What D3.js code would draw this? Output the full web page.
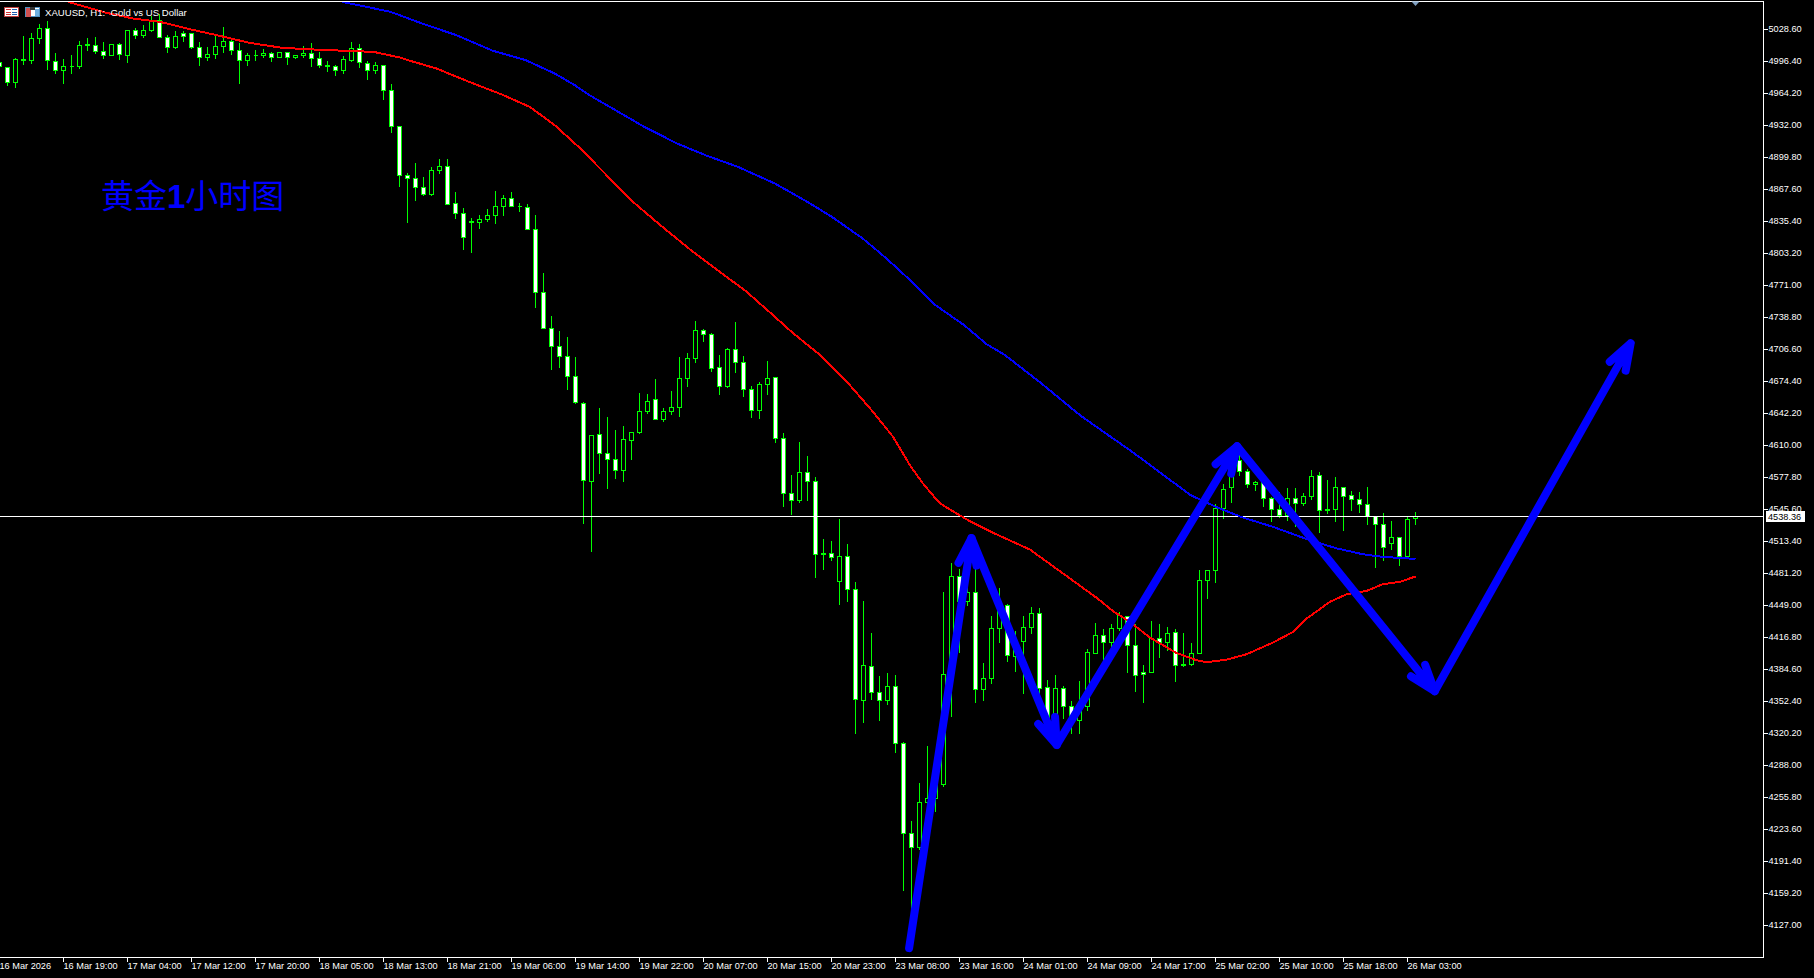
<!DOCTYPE html>
<html>
<head>
<meta charset="utf-8">
<style>
  html, body { margin: 0; padding: 0; background: #000; overflow: hidden; }
  svg { display: block; }
  text { font-family: "Liberation Sans", Arial, sans-serif; font-size: 9.2px; fill: #fff; }
  .header { font-size: 9.6px; }
  .title { font-family: "Noto Sans CJK SC", sans-serif; font-size: 33px; fill: #0000ff; }
  .title tspan { font-family: "Liberation Sans", sans-serif; font-weight: bold; }
  .axis line { stroke: #fff; shape-rendering: crispEdges; }
  .axis path { display: none; }
</style>
<script src="https://cdnjs.cloudflare.com/ajax/libs/d3/7.8.5/d3.min.js"></script>
</head>
<body>
<div id="chart"></div>
<script>
/* global d3 */
// XAUUSD H1 bars, oldest first
const opens = [
  4995.4, 4990.4, 4975.3, 4997.0, 4997.0, 5019.6, 5029.6, 4996.4, 4987.4, 4991.2,
  4991.4, 5012.5, 5012.5, 5006.5, 5002.5, 5013.5, 5002.5, 5027.6, 5022.6, 5027.2,
  5037.3, 5020.6, 5010.5, 5024.6, 5024.6, 5010.5, 5000.4, 5003.5, 5011.5, 5016.5,
  5007.5, 4997.4, 5002.3, 5002.5, 5004.5, 5000.4, 5005.5, 5000.4, 5002.5, 5004.5,
  4999.4, 4991.4, 4991.4, 4987.4, 4997.4, 5009.5, 4994.4, 4987.4, 4992.4, 4967.2,
  4931.0, 4881.7, 4878.7, 4869.6, 4862.6, 4886.7, 4890.8, 4853.5, 4843.5, 4834.4,
  4834.4, 4837.4, 4841.4, 4850.5, 4858.6, 4850.3, 4849.5, 4827.4, 4764.0, 4727.7,
  4709.6, 4699.6, 4679.5, 4652.3, 4573.8, 4621.1, 4602.0, 4595.9, 4584.8, 4615.1,
  4623.1, 4644.2, 4656.3, 4636.2, 4644.2, 4648.2, 4677.4, 4697.6, 4725.7, 4721.7,
  4688.5, 4669.4, 4706.6, 4693.5, 4666.4, 4645.2, 4671.4, 4678.4, 4617.1, 4561.7,
  4554.7, 4583.2, 4573.8, 4500.3, 4501.3, 4473.0, 4498.3, 4465.0, 4353.4, 4387.6,
  4361.4, 4353.4, 4367.5, 4310.1, 4219.6, 4205.5, 4250.7, 4254.7, 4268.9, 4393.9,
  4478.2, 4452.7, 4462.1, 4364.5, 4375.5, 4425.9, 4449.0, 4397.7, 4412.8, 4426.9,
  4441.0, 4366.5, 4328.6, 4365.5, 4347.4, 4333.3, 4347.4, 4400.7, 4418.8, 4411.8,
  4425.9, 4437.9, 4408.8, 4381.6, 4381.6, 4415.8, 4411.8, 4421.8, 4388.2, 4389.6,
  4400.7, 4474.2, 4484.2, 4546.6, 4567.8, 4594.9, 4583.8, 4570.8, 4572.8, 4556.7,
  4545.6, 4539.6, 4556.7, 4551.7, 4558.7, 4579.8, 4544.6, 4545.6, 4567.8, 4559.7,
  4555.7, 4550.6, 4538.6, 4530.5, 4511.4, 4517.4, 4498.3, 4536.5
];
const highs = [
  4997.7, 4991.7, 5000.4, 5022.9, 5025.2, 5034.9, 5038.0, 5005.8, 4999.7, 5003.8,
  5017.9, 5020.9, 5021.9, 5016.8, 5013.5, 5015.1, 5027.6, 5030.6, 5033.9, 5042.3,
  5044.7, 5023.6, 5027.9, 5027.9, 5025.6, 5016.8, 5011.8, 5024.6, 5031.9, 5019.6,
  5015.8, 5005.5, 5008.5, 5009.5, 5006.5, 5006.5, 5006.5, 5003.5, 5012.8, 5015.5,
  5006.8, 4997.4, 4993.4, 5002.5, 5016.5, 5014.8, 4997.4, 4996.4, 4992.4, 4974.5,
  4932.0, 4884.9, 4895.1, 4881.0, 4891.1, 4899.1, 4899.1, 4866.0, 4849.5, 4839.4,
  4842.8, 4848.8, 4866.9, 4862.6, 4866.0, 4854.5, 4853.5, 4842.8, 4784.1, 4741.1,
  4726.0, 4720.0, 4699.9, 4654.3, 4621.4, 4648.6, 4639.5, 4626.4, 4630.4, 4623.1,
  4663.6, 4662.6, 4677.7, 4648.6, 4665.7, 4699.9, 4703.9, 4736.1, 4728.0, 4724.0,
  4701.9, 4708.9, 4735.1, 4700.9, 4670.7, 4674.7, 4695.8, 4678.4, 4623.4, 4581.0,
  4614.3, 4600.3, 4579.1, 4516.7, 4514.7, 4536.9, 4511.7, 4473.4, 4454.4, 4422.1,
  4378.9, 4381.9, 4379.9, 4312.4, 4232.9, 4271.2, 4308.4, 4268.2, 4463.4, 4492.6,
  4486.2, 4467.4, 4487.2, 4391.7, 4439.0, 4467.1, 4451.0, 4424.2, 4439.0, 4448.3,
  4447.0, 4374.5, 4379.6, 4368.5, 4353.7, 4373.8, 4405.7, 4432.2, 4426.2, 4430.7,
  4442.6, 4438.2, 4430.7, 4389.9, 4434.2, 4430.7, 4428.2, 4425.9, 4422.2, 4412.1,
  4485.2, 4485.2, 4551.7, 4571.8, 4599.3, 4601.3, 4586.9, 4575.1, 4575.1, 4558.3,
  4564.0, 4567.8, 4567.8, 4562.7, 4585.9, 4583.8, 4575.8, 4579.1, 4569.1, 4565.0,
  4564.0, 4569.1, 4539.6, 4542.6, 4534.9, 4518.7, 4539.6, 4543.5
];
const lows = [
  4988.6, 4971.9, 4969.9, 4993.0, 4994.0, 5014.1, 4988.0, 4983.9, 4973.9, 4983.9,
  4989.4, 5007.8, 5004.1, 4999.0, 5002.5, 4998.0, 4995.0, 5019.2, 5020.2, 5026.6,
  5020.2, 5005.1, 5009.5, 5016.5, 5009.5, 4992.0, 4997.0, 4999.0, 5005.1, 5003.5,
  4973.9, 4992.0, 4997.0, 5000.0, 4996.0, 5000.4, 4993.0, 4999.4, 5000.4, 4991.0,
  4990.0, 4986.0, 4981.9, 4984.3, 4996.4, 4990.0, 4977.9, 4983.9, 4958.5, 4924.5,
  4870.2, 4834.0, 4856.2, 4861.2, 4861.2, 4883.3, 4852.5, 4838.0, 4806.8, 4803.8,
  4827.9, 4835.4, 4833.0, 4841.0, 4850.5, 4845.1, 4827.4, 4748.5, 4727.7, 4686.1,
  4688.1, 4666.0, 4651.9, 4531.1, 4502.9, 4581.4, 4566.4, 4576.4, 4573.4, 4595.5,
  4621.7, 4642.5, 4636.2, 4633.7, 4641.5, 4638.8, 4669.7, 4693.1, 4714.9, 4684.8,
  4660.9, 4668.4, 4683.8, 4659.6, 4637.8, 4636.8, 4661.6, 4612.6, 4548.2, 4540.2,
  4552.3, 4554.3, 4476.8, 4484.9, 4493.9, 4449.6, 4452.6, 4319.8, 4330.9, 4354.7,
  4333.6, 4349.7, 4301.4, 4162.5, 4102.2, 4203.1, 4248.1, 4241.3, 4267.2, 4336.9,
  4402.0, 4449.3, 4351.0, 4353.0, 4370.1, 4411.4, 4392.2, 4382.2, 4360.5, 4420.8,
  4358.8, 4323.5, 4323.5, 4335.3, 4320.5, 4320.2, 4342.9, 4400.7, 4392.2, 4406.0,
  4424.2, 4381.2, 4362.1, 4351.0, 4381.6, 4396.3, 4403.3, 4372.1, 4387.9, 4388.2,
  4400.7, 4455.7, 4471.7, 4536.7, 4552.3, 4579.4, 4567.4, 4565.0, 4548.9, 4533.1,
  4537.6, 4534.9, 4528.1, 4549.9, 4555.3, 4522.1, 4541.6, 4533.1, 4524.8, 4544.9,
  4542.2, 4530.8, 4486.9, 4494.6, 4505.6, 4489.2, 4496.3, 4530.8
];
const closes = [
  4991.4, 4975.3, 4998.4, 4998.4, 5019.6, 5029.6, 4997.4, 4987.4, 4991.4, 4991.4,
  5012.5, 5013.8, 5006.5, 5002.5, 5013.5, 5003.5, 5027.6, 5022.6, 5027.6, 5037.7,
  5020.6, 5010.5, 5021.6, 5021.6, 5010.5, 5000.4, 5003.5, 5011.5, 5016.5, 5007.5,
  4997.4, 5002.5, 5002.5, 5004.5, 5000.4, 5005.5, 5000.4, 5002.5, 5004.5, 4999.4,
  4992.4, 4992.4, 4987.4, 4998.4, 5009.5, 4995.4, 4987.4, 4992.4, 4967.2, 4931.0,
  4881.7, 4878.7, 4869.6, 4862.6, 4886.7, 4890.8, 4852.5, 4843.5, 4819.3, 4835.4,
  4837.4, 4841.4, 4850.5, 4858.6, 4850.5, 4850.5, 4827.4, 4764.0, 4727.7, 4709.6,
  4699.6, 4679.5, 4653.3, 4574.8, 4620.1, 4602.0, 4595.9, 4584.8, 4616.1, 4623.1,
  4644.2, 4654.3, 4636.2, 4644.2, 4648.2, 4677.4, 4697.6, 4725.7, 4721.7, 4687.5,
  4669.4, 4706.6, 4693.5, 4666.4, 4645.2, 4671.4, 4677.4, 4617.1, 4561.7, 4554.7,
  4583.2, 4573.8, 4500.3, 4501.3, 4497.3, 4498.3, 4465.0, 4354.4, 4388.6, 4361.4,
  4353.4, 4367.5, 4310.1, 4219.6, 4205.5, 4250.7, 4254.7, 4268.2, 4379.6, 4478.2,
  4452.7, 4462.1, 4364.5, 4375.5, 4425.9, 4449.0, 4398.7, 4412.8, 4426.9, 4441.0,
  4365.5, 4328.6, 4365.5, 4347.4, 4333.6, 4347.4, 4401.7, 4418.8, 4411.8, 4425.9,
  4439.3, 4408.8, 4378.6, 4379.6, 4415.8, 4411.8, 4420.8, 4388.6, 4389.6, 4400.7,
  4474.2, 4484.2, 4546.6, 4565.7, 4594.9, 4584.0, 4570.8, 4572.8, 4556.7, 4545.6,
  4539.6, 4556.7, 4551.7, 4558.7, 4578.8, 4544.6, 4545.6, 4567.8, 4558.7, 4555.7,
  4550.6, 4538.6, 4530.5, 4507.4, 4517.4, 4498.3, 4535.5, 4538.36
];

// moving averages: bar number + value, read at the bends
const redBars = [
  8.56, 13.4, 16.7, 20.06, 23.4, 27.15, 31.3, 35.4, 40.9, 45.06, 47.1, 50.06, 51.5, 54.6, 58.7,
  62.7, 66.3, 69.4, 72.6, 76.5, 79.2, 82.6, 86.7, 90.06, 93.4, 96.7, 99.2, 102.6, 106.3, 109.2,
  111.7, 113.8, 115.4, 117.4, 118.06, 121.06, 124.2, 128.8, 132.9, 137.2, 139.2, 141.3, 143.8,
  147.1, 149.65, 150.9, 153.4, 155.9, 159.2, 161.7, 163.4, 166.3, 168.4, 170.9, 172.9, 175.06, 177
];
const redValues = [
  5056.4, 5045.3, 5039.7, 5036.3, 5029.6, 5022.9, 5015.1, 5010.1, 5007.8, 5006.8, 5005.5, 5000.4, 4996.7, 4989.4, 4975.9,
  4963.5, 4950.7, 4932.3, 4908.9, 4877.0, 4855.1, 4831.7, 4804.8, 4784.7, 4764.6, 4741.1, 4723.0, 4700.9, 4670.7, 4643.8,
  4618.7, 4590.2, 4572.1, 4553.0, 4549.2, 4534.9, 4522.1, 4505.3, 4481.5, 4456.4, 4443.3, 4432.4, 4416.8,
  4401.3, 4393.9, 4391.9, 4394.5, 4400.0, 4411.8, 4422.4, 4435.9, 4452.7, 4460.4, 4463.7, 4470.4, 4472.8, 4478.2
];
const blueBars = [
  42.8, 45.9, 48.9, 52.6, 57.1, 61.7, 65.8, 69.4, 71.9, 73.9, 77.0, 80.6, 84.7, 88.25, 92.3, 96.9, 101,
  104.06, 107.9, 110.06, 111.8, 114.5, 117, 120.6, 123.4, 125.7, 130.2, 135.06, 138.6, 141.3, 143.55,
  145.8, 148.9, 152, 155.4, 159.2, 163.8, 167.2, 170.4, 172.9, 177
];
const blueValues = [
  5056.4, 5051.4, 5046.3, 5035.3, 5022.9, 5007.1, 4997.7, 4984.3, 4972.6, 4961.8, 4947.4, 4930.6, 4913.9, 4902.1, 4890.4, 4873.7, 4855.1,
  4840.0, 4818.3, 4803.8, 4791.4, 4771.3, 4751.2, 4731.0, 4711.9, 4700.9, 4672.7, 4640.5, 4620.4, 4605.3, 4592.0,
  4578.4, 4560.0, 4548.4, 4537.6, 4528.1, 4514.7, 4506.4, 4500.6, 4497.9, 4495.9
];

// hand drawn zig-zag, each leg ends in an arrow head
const arrowBars = [113.7, 121.5, 132.15, 154.7, 179.4, 203.9];
const arrowPrices = [4104.2, 4516.8, 4308.7, 4609.3, 4362.8, 4713.0];

const priceTicks = [
  5028.6, 4996.4, 4964.2, 4932.0, 4899.8, 4867.6, 4835.4, 4803.2, 4771.0, 4738.8,
  4706.6, 4674.4, 4642.2, 4610.0, 4577.8, 4545.6, 4513.4, 4481.2, 4449.0, 4416.8,
  4384.6, 4352.4, 4320.2, 4288.0, 4255.8, 4223.6, 4191.4, 4159.2, 4127.0
];
const timeLabels = [
  '16 Mar 2026', '16 Mar 19:00', '17 Mar 04:00', '17 Mar 12:00', '17 Mar 20:00', '18 Mar 05:00',
  '18 Mar 13:00', '18 Mar 21:00', '19 Mar 06:00', '19 Mar 14:00', '19 Mar 22:00', '20 Mar 07:00',
  '20 Mar 15:00', '20 Mar 23:00', '23 Mar 08:00', '23 Mar 16:00', '24 Mar 01:00', '24 Mar 09:00',
  '24 Mar 17:00', '25 Mar 02:00', '25 Mar 10:00', '25 Mar 18:00', '26 Mar 03:00'
];
const lastPrice = 4538.36;

const WIDTH = 1814;
const HEIGHT = 978;
const plotRight = 1763;
const plotTop = 1;
const plotBottom = 957;
const BODY_HALF = 2;
const HEAD_LENGTH = 28;
const HEAD_ANGLE = 19 * Math.PI / 180;
const GREEN = '#00ff00';
const RED = '#ff0000';
const BLUE = '#0000ff';

// scales: 8px per bar
const scaleX = d3.scaleLinear().domain([0, 176]).range([-0.5, 1407.5]);
const scaleY = d3.scaleLinear().domain([5028.6, 4127]).range([29.5, 925.5]);
const row = p => Math.floor(scaleY(p)) + 0.5;

const $svg = d3.select('#chart').append('svg')
  .attr('width', WIDTH)
  .attr('height', HEIGHT);

$svg.append('rect')
  .attr('width', WIDTH)
  .attr('height', HEIGHT)
  .attr('fill', '#000');

$svg.append('clipPath').attr('id', 'plot-clip').append('rect')
  .attr('x', 0)
  .attr('y', plotTop + 1)
  .attr('width', plotRight)
  .attr('height', plotBottom - plotTop - 1);

const $plot = $svg.append('g').attr('clip-path', 'url(#plot-clip)');

// candles
const bars = opens.map((open, i) => ({ i, open, high: highs[i], low: lows[i], close: closes[i] }));

const $candles = $plot.append('g')
  .attr('shape-rendering', 'crispEdges')
  .selectAll('g')
  .data(bars)
  .join('g');

$candles.append('line')
  .attr('x1', d => scaleX(d.i))
  .attr('x2', d => scaleX(d.i))
  .attr('y1', d => row(d.high))
  .attr('y2', d => row(d.low))
  .attr('stroke', GREEN);

$candles.append('path')
  .attr('d', d => {
    const x0 = scaleX(d.i) - BODY_HALF;
    const x1 = scaleX(d.i) + BODY_HALF;
    const y0 = row(Math.max(d.open, d.close));
    const y1 = row(Math.min(d.open, d.close));
    return `M${x0},${y0}H${x1}V${y1}H${x0}Z`;
  })
  .attr('fill', d => (d.close < d.open ? '#fff' : '#000'))
  .attr('stroke', GREEN);

// current price line
$plot.append('line')
  .attr('x1', 0)
  .attr('x2', plotRight)
  .attr('y1', row(lastPrice))
  .attr('y2', row(lastPrice))
  .attr('stroke', '#fff')
  .attr('shape-rendering', 'crispEdges');

// moving averages
const generateLine = d3.line().x(d => scaleX(d[0])).y(d => scaleY(d[1]));

[[redBars, redValues, RED], [blueBars, blueValues, BLUE]].forEach(([xs, ys, color]) => {
  $plot.append('path')
    .datum(d3.zip(xs, ys))
    .attr('d', generateLine)
    .attr('fill', 'none')
    .attr('stroke', color)
    .attr('stroke-width', 2)
    .attr('shape-rendering', 'crispEdges');
});

// arrows
const $arrows = $plot.append('g')
  .attr('fill', 'none')
  .attr('stroke', BLUE)
  .attr('stroke-width', 8)
  .attr('stroke-linecap', 'round')
  .attr('stroke-linejoin', 'round');

d3.pairs(d3.zip(arrowBars, arrowPrices)).forEach(([a, b]) => {
  const x0 = scaleX(a[0]);
  const y0 = scaleY(a[1]);
  const x1 = scaleX(b[0]);
  const y1 = scaleY(b[1]);
  const angle = Math.atan2(y0 - y1, x0 - x1);
  const wing = sign => [
    x1 + HEAD_LENGTH * Math.cos(angle + sign * HEAD_ANGLE),
    y1 + HEAD_LENGTH * Math.sin(angle + sign * HEAD_ANGLE)
  ];
  const w0 = wing(1);
  const w1 = wing(-1);
  $arrows.append('path')
    .attr('d', `M${x0},${y0}L${x1},${y1}M${w0}L${x1},${y1}L${w1}`);
});

// label on the chart
$plot.append('text')
  .attr('class', 'title')
  .attr('x', 101)
  .attr('y', 208)
  .text('黄金')
  .append('tspan')
  .text('1');
$plot.select('.title').append('tspan')
  .style('font-family', '"Noto Sans CJK SC", sans-serif')
  .style('font-weight', 'normal')
  .text('小时图');

// frame
$svg.append('path')
  .attr('d', `M0,${plotTop + 0.5}H${plotRight + 0.5}V${plotBottom + 0.5}H0`)
  .attr('fill', 'none')
  .attr('stroke', '#fff')
  .attr('shape-rendering', 'crispEdges');

// axes
const axisY = d3.axisRight(scaleY)
  .tickValues(priceTicks)
  .tickFormat(d3.format('.2f'))
  .tickSize(4)
  .tickPadding(1)
  .offset(0);

$svg.append('g')
  .attr('class', 'axis axis--y')
  .attr('transform', `translate(${plotRight + 0.5},0)`)
  .call(axisY);

const axisX = d3.axisBottom(scaleX)
  .tickValues(timeLabels.map((d, i) => i * 8))
  .tickFormat((d, i) => timeLabels[i])
  .tickSize(4)
  .tickPadding(1)
  .offset(0);

$svg.append('g')
  .attr('class', 'axis axis--x')
  .attr('transform', `translate(0,${plotBottom + 0.5})`)
  .call(axisX)
  .selectAll('text')
  .attr('text-anchor', 'start');

$svg.selectAll('.axis text').style('font-family', '"Liberation Sans", Arial, sans-serif').style('font-size', '9.2px');

// current price tag
$svg.append('rect')
  .attr('x', plotRight + 3)
  .attr('y', row(lastPrice) - 5.5)
  .attr('width', 39)
  .attr('height', 11)
  .attr('fill', '#fff');

$svg.append('text')
  .attr('x', plotRight + 5)
  .attr('y', row(lastPrice) + 3.5)
  .style('fill', '#000')
  .text(d3.format('.2f')(lastPrice));

// chart shift marker at the last bar
$svg.append('path')
  .attr('d', `M${scaleX(177) - 4},1.5H${scaleX(177) + 4}L${scaleX(177)},6Z`)
  .attr('fill', '#7f9fc0');

// header
$svg.append('text')
  .attr('class', 'header')
  .attr('x', 45)
  .attr('y', 16)
  .text('XAUUSD, H1:  Gold vs US Dollar')
  .attr('xml:space', 'preserve');

const $icons = $svg.append('g').attr('shape-rendering', 'crispEdges');
$icons.append('rect').attr('x', 4.5).attr('y', 7.5).attr('width', 14).attr('height', 9).attr('fill', '#fff').attr('stroke', '#c04040');
$icons.append('rect').attr('x', 6).attr('y', 9).attr('width', 5).attr('height', 1).attr('fill', '#d03030');
$icons.append('rect').attr('x', 6).attr('y', 12).attr('width', 5).attr('height', 1).attr('fill', '#d03030');
$icons.append('rect').attr('x', 6).attr('y', 14).attr('width', 5).attr('height', 1).attr('fill', '#d03030');
$icons.append('rect').attr('x', 12).attr('y', 9).attr('width', 5).attr('height', 1).attr('fill', '#2060b0');
$icons.append('rect').attr('x', 12).attr('y', 12).attr('width', 5).attr('height', 1).attr('fill', '#2060b0');
$icons.append('rect').attr('x', 12).attr('y', 14).attr('width', 5).attr('height', 1).attr('fill', '#2060b0');
$icons.append('rect').attr('x', 25.5).attr('y', 7.5).attr('width', 14).attr('height', 9).attr('fill', '#fff').attr('stroke', '#5090c0');
$icons.append('rect').attr('x', 26).attr('y', 8).attr('width', 5).attr('height', 9).attr('fill', '#d05050');
$icons.append('rect').attr('x', 30).attr('y', 7).attr('width', 5).attr('height', 3).attr('fill', '#333');
$icons.append('rect').attr('x', 35).attr('y', 9).attr('width', 4).attr('height', 7).attr('fill', '#70b0e0');
</script>
</body>
</html>
